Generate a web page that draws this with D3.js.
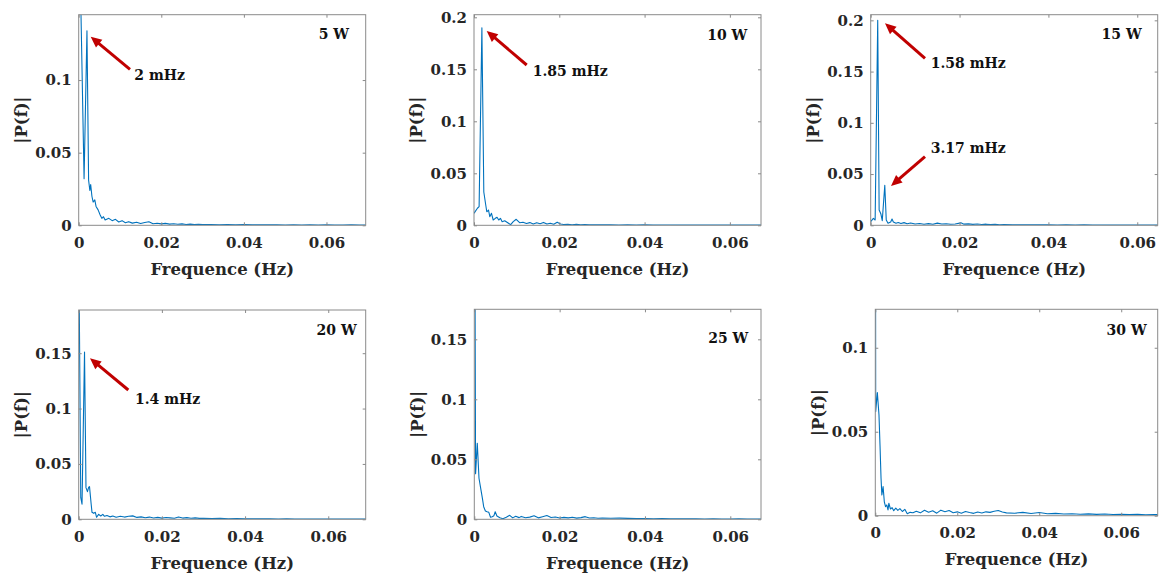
<!DOCTYPE html>
<html>
<head>
<meta charset="utf-8">
<script src="https://cdn.jsdelivr.net/npm/d3@7"></script>
<style>
  html, body { margin: 0; padding: 0; background: #ffffff; }
  svg { display: block; }
</style>
</head>
<body>
<svg id="chart" width="1161" height="576"></svg>
<script>
// ---------------- DATA ----------------
const xTickValues = [0, 0.02, 0.04, 0.06];
const xTickLabels = ["0", "0.02", "0.04", "0.06"];

const titles = ["5 W", "10 W", "15 W", "20 W", "25 W", "30 W"];
const xLabel = "Frequence (Hz)";
const yLabel = "|P(f)|";

// 5 W
const f5 = [0, 0.0013, 0.0020, 0.0024, 0.0027, 0.0029, 0.0032, 0.0035, 0.0039, 0.0042, 0.0047, 0.0052, 0.0056, 0.0060, 0.0064, 0.0073, 0.0081, 0.0089, 0.0097, 0.0105, 0.0113, 0.0121,
  0.013, 0.014, 0.015, 0.016, 0.017, 0.018, 0.019, 0.020, 0.021, 0.022, 0.023, 0.024, 0.025, 0.026, 0.027, 0.028, 0.029, 0.030,
  0.032, 0.034, 0.036, 0.038, 0.040, 0.042, 0.044, 0.046, 0.048, 0.050, 0.052, 0.054, 0.056, 0.058, 0.060, 0.062, 0.064, 0.066, 0.068, 0.070];
const p5 = [0.23, 0.032, 0.134, 0.031, 0.024, 0.028, 0.020, 0.016, 0.0175, 0.013, 0.0106, 0.0071, 0.0048, 0.0059, 0.0037, 0.0048, 0.0032, 0.0041, 0.0023, 0.0032, 0.0018, 0.0025,
  0.0015, 0.0021, 0.0012, 0.0019, 0.0024, 0.0011, 0.0014, 0.0010, 0.0013, 0.0008, 0.0011, 0.0007, 0.0010, 0.0006, 0.0008, 0.0005, 0.0007, 0.0005,
  0.0006, 0.0004, 0.0005, 0.0003, 0.0005, 0.0003, 0.0004, 0.0003, 0.0004, 0.0002, 0.0003, 0.0002, 0.0003, 0.0002, 0.0003, 0.0002, 0.0002, 0.0003, 0.0002, 0.0002];

// 10 W
const f10 = [0, 0.0008, 0.0012, 0.00185, 0.0023, 0.0027, 0.0030, 0.0034, 0.0037, 0.0041, 0.0045, 0.0050, 0.0054, 0.0058, 0.0062, 0.0066, 0.0072, 0.0080, 0.0086, 0.0092, 0.0099, 0.0107, 0.0115, 0.0123, 0.0131, 0.0139, 0.0147, 0.0155, 0.0163, 0.0171, 0.0179, 0.0187, 0.0195, 0.0203,
  0.021, 0.022, 0.023, 0.024, 0.025, 0.026, 0.027, 0.028, 0.029, 0.030,
  0.032, 0.034, 0.036, 0.038, 0.040, 0.042, 0.044, 0.046, 0.048, 0.050, 0.052, 0.054, 0.056, 0.058, 0.060, 0.062, 0.064, 0.066, 0.068];
const p10 = [0.0115, 0.0164, 0.018, 0.190, 0.032, 0.021, 0.013, 0.0147, 0.0083, 0.0115, 0.0051, 0.0067, 0.0077, 0.0051, 0.0067, 0.0035, 0.0044, 0.0022, 0.0006, 0.0035, 0.0058, 0.0025, 0.0030, 0.0018, 0.0026, 0.0012, 0.0024, 0.0015, 0.0028, 0.0012, 0.0020, 0.0011, 0.0030, 0.0012,
  0.0008, 0.0010, 0.0006, 0.0009, 0.0005, 0.0007, 0.0006, 0.0004, 0.0006, 0.0004,
  0.0005, 0.0003, 0.0004, 0.0003, 0.0004, 0.0002, 0.0003, 0.0003, 0.0002, 0.0003, 0.0002, 0.0002, 0.0003, 0.0002, 0.0002, 0.0002, 0.0002, 0.0003, 0.0002];

// 15 W
const f15 = [0, 0.0006, 0.0010, 0.00158, 0.0019, 0.0023, 0.0026, 0.00317, 0.0035, 0.0039, 0.0045, 0.0048, 0.0051, 0.0057, 0.0062, 0.0068, 0.0075, 0.0082, 0.0090, 0.0100,
  0.011, 0.012, 0.013, 0.014, 0.015, 0.016, 0.017, 0.018, 0.019, 0.0203, 0.021, 0.022, 0.023, 0.024, 0.025, 0.026, 0.027, 0.028, 0.029, 0.030,
  0.032, 0.034, 0.036, 0.038, 0.040, 0.042, 0.044, 0.046, 0.048, 0.050, 0.052, 0.054, 0.056, 0.058, 0.060, 0.062, 0.064, 0.066];
const p15 = [0.0035, 0.0068, 0.0052, 0.200, 0.0149, 0.011, 0.0045, 0.039, 0.0052, 0.002, 0.0032, 0.0061, 0.0032, 0.002, 0.0028, 0.0018, 0.0026, 0.0015, 0.0022, 0.0012,
  0.0018, 0.0011, 0.0016, 0.0010, 0.0021, 0.0012, 0.0015, 0.0010, 0.0013, 0.0024, 0.0011, 0.0014, 0.0009, 0.0012, 0.0008, 0.0011, 0.0007, 0.0009, 0.0006, 0.0008,
  0.0006, 0.0005, 0.0006, 0.0004, 0.0005, 0.0003, 0.0004, 0.0003, 0.0004, 0.0003, 0.0003, 0.0002, 0.0003, 0.0002, 0.0003, 0.0002, 0.0002, 0.0002];

// 20 W
const f20 = [0, 0.0005, 0.0008, 0.0014, 0.00175, 0.0021, 0.0024, 0.0026, 0.0030, 0.0032, 0.0036, 0.0040, 0.0043, 0.0048, 0.0053, 0.0058, 0.0062, 0.0068, 0.0075, 0.0082, 0.0090, 0.0100,
  0.011, 0.012, 0.013, 0.014, 0.015, 0.016, 0.017, 0.018, 0.019, 0.020, 0.021, 0.022, 0.023, 0.024, 0.025, 0.026, 0.027, 0.028, 0.029, 0.030,
  0.032, 0.034, 0.036, 0.038, 0.040, 0.042, 0.044, 0.046, 0.048, 0.050, 0.052, 0.054, 0.056, 0.058, 0.060, 0.062, 0.064, 0.066, 0.068, 0.070];
const p20 = [0.26, 0.0195, 0.0136, 0.151, 0.0286, 0.025, 0.029, 0.0295, 0.0136, 0.0063, 0.0054, 0.0063, 0.0018, 0.0045, 0.0030, 0.0045, 0.0027, 0.0035, 0.0022, 0.0030, 0.0018, 0.0028,
  0.0020, 0.0027, 0.0031, 0.0017, 0.0022, 0.0014, 0.0020, 0.0012, 0.0017, 0.0011, 0.0016, 0.0013, 0.0010, 0.0021, 0.0011, 0.0015, 0.0009, 0.0013, 0.0008, 0.0009,
  0.0007, 0.0008, 0.0005, 0.0006, 0.0004, 0.0005, 0.0004, 0.0004, 0.0003, 0.0004, 0.0003, 0.0003, 0.0002, 0.0003, 0.0002, 0.0003, 0.0002, 0.0002, 0.0002, 0.0002];

// 25 W
const f25 = [0, 0.0003, 0.0007, 0.0011, 0.0015, 0.0019, 0.0022, 0.0026, 0.0030, 0.0034, 0.0038, 0.0042, 0.0046, 0.0049, 0.0053, 0.0060, 0.0067, 0.0075, 0.0083, 0.0090, 0.0097,
  0.0105, 0.011, 0.012, 0.013, 0.014, 0.015, 0.016, 0.017, 0.018, 0.019, 0.020, 0.021, 0.022, 0.023, 0.024, 0.025, 0.026, 0.027, 0.028, 0.029, 0.030,
  0.032, 0.034, 0.036, 0.038, 0.040, 0.042, 0.044, 0.046, 0.048, 0.050, 0.052, 0.054, 0.056, 0.058, 0.060, 0.062, 0.064, 0.066, 0.068];
const p25 = [0.40, 0.038, 0.0633, 0.0342, 0.0258, 0.0175, 0.0105, 0.0069, 0.0063, 0.0058, 0.0017, 0.0022, 0.0030, 0.0063, 0.0028, 0.0013, 0.0005, 0.0017, 0.0033, 0.0012, 0.0026,
  0.0014, 0.0024, 0.0013, 0.0018, 0.0029, 0.0012, 0.0022, 0.0031, 0.0015, 0.0019, 0.0011, 0.0016, 0.0012, 0.0017, 0.0010, 0.0014, 0.0022, 0.0011, 0.0013, 0.0009, 0.0011,
  0.0009, 0.0010, 0.0008, 0.0006, 0.0007, 0.0005, 0.0006, 0.0004, 0.0005, 0.0004, 0.0004, 0.0003, 0.0004, 0.0003, 0.0003, 0.0004, 0.0003, 0.0002, 0.0003];

// 30 W
const f30 = [0, 0.0001, 0.0005, 0.0009, 0.00115, 0.0014, 0.0016, 0.0019, 0.0022, 0.0025, 0.0028, 0.0031, 0.0033, 0.0037, 0.0041, 0.0045, 0.0050, 0.0055, 0.0060, 0.0066, 0.0072, 0.0078, 0.0085, 0.0092,
  0.010, 0.011, 0.012, 0.013, 0.014, 0.015, 0.016, 0.017, 0.018, 0.019, 0.020, 0.021, 0.022, 0.023, 0.024, 0.025, 0.026, 0.027, 0.028, 0.029, 0.030, 0.031, 0.032,
  0.034, 0.036, 0.038, 0.040, 0.042, 0.044, 0.046, 0.048, 0.050, 0.052, 0.054, 0.056, 0.058, 0.060, 0.062, 0.064, 0.066, 0.068, 0.070];
const p30 = [0.30, 0.062, 0.0734, 0.060, 0.042, 0.0223, 0.0123, 0.0173, 0.0083, 0.0054, 0.0064, 0.0034, 0.0074, 0.0040, 0.0048, 0.0030, 0.0045, 0.0032, 0.0042, 0.0025, 0.0038, 0.0012, 0.0020, 0.0018,
  0.0026, 0.0017, 0.0032, 0.0021, 0.0029, 0.0015, 0.0033, 0.0024, 0.0031, 0.0018, 0.0023, 0.0015, 0.0025, 0.0019, 0.0014, 0.0022, 0.0016, 0.0023, 0.0020, 0.0026, 0.0031, 0.0022, 0.0017,
  0.0015, 0.0020, 0.0013, 0.0019, 0.0012, 0.0014, 0.0010, 0.0012, 0.0009, 0.0011, 0.0008, 0.0010, 0.0007, 0.0009, 0.0007, 0.0008, 0.0006, 0.0007, 0.0006];

const yTicks5 = [0, 0.05, 0.1], yLabels5 = ["0", "0.05", "0.1"];
const yTicks10 = [0, 0.05, 0.1, 0.15, 0.2], yLabels10 = ["0", "0.05", "0.1", "0.15", "0.2"];
const yTicks15 = [0, 0.05, 0.1, 0.15, 0.2], yLabels15 = ["0", "0.05", "0.1", "0.15", "0.2"];
const yTicks20 = [0, 0.05, 0.1, 0.15], yLabels20 = ["0", "0.05", "0.1", "0.15"];
const yTicks25 = [0, 0.05, 0.1, 0.15], yLabels25 = ["0", "0.05", "0.1", "0.15"];
const yTicks30 = [0, 0.05, 0.1], yLabels30 = ["0", "0.05", "0.1"];

const xMaxes = [0.0695, 0.0673, 0.0646, 0.069, 0.0672, 0.0689];
const yMaxes = [0.145, 0.2025, 0.2055, 0.189, 0.175, 0.1229];

// callouts: [text, textX, textY, arrowTailX, arrowTailY, arrowHeadX, arrowHeadY] (pixel layout)
const callouts = [
  [0, "2 mHz", 134.3, 80, 130, 69.3, 90.7, 36.7],
  [1, "1.85 mHz", 532.7, 76, 526.7, 65, 486.7, 31],
  [2, "1.58 mHz", 930.7, 67.7, 925, 58.3, 885, 23.3],
  [2, "3.17 mHz", 930.7, 153, 925, 156.7, 891, 186],
  [3, "1.4 mHz", 135, 404.3, 128.3, 390, 90, 358.3]
];

// ---------------- LAYOUT ----------------
const boxes = [
  [78.7, 14.7, 365.7, 225.3],
  [474, 14.7, 761, 225.3],
  [870.7, 14.7, 1157.7, 225.3],
  [78.7, 310, 365.7, 519.3],
  [474.3, 309.3, 761, 519.3],
  [875.3, 309.3, 1157.7, 515.7]
];
const titlePos = [[349, 39.3], [747.3, 40], [1141.7, 39.3], [356.7, 335], [748.3, 343.3], [1146.7, 335.3]];

const series = [
  { f: f5, p: p5, yt: yTicks5, yl: yLabels5 },
  { f: f10, p: p10, yt: yTicks10, yl: yLabels10 },
  { f: f15, p: p15, yt: yTicks15, yl: yLabels15 },
  { f: f20, p: p20, yt: yTicks20, yl: yLabels20 },
  { f: f25, p: p25, yt: yTicks25, yl: yLabels25 },
  { f: f30, p: p30, yt: yTicks30, yl: yLabels30 }
];

const FONT = "'DejaVu Serif', 'Liberation Serif', serif";
const svg = d3.select("#chart");
const axisColor = "#8a8a8a";
const textColor = "#262626";

series.forEach((s, i) => {
  const [L, T, R, B] = boxes[i];
  const x = d3.scaleLinear().domain([0, xMaxes[i]]).range([L, R]);
  const y = d3.scaleLinear().domain([0, yMaxes[i]]).range([B, T]);
  const g = svg.append("g");

  const clipId = "clip" + i;
  svg.append("clipPath").attr("id", clipId)
    .append("rect").attr("x", L).attr("y", T).attr("width", R - L).attr("height", B - T);

  // data line
  const pts = s.f.map((f, k) => [f, s.p[k]]);
  g.append("path")
    .datum(pts)
    .attr("clip-path", `url(#${clipId})`)
    .attr("fill", "none")
    .attr("stroke", "#0072BD")
    .attr("stroke-width", 1.1)
    .attr("stroke-linejoin", "round")
    .attr("d", d3.line().x(d => x(d[0])).y(d => y(d[1])));

  // axes
  const styleAxis = (sel, labels) => {
    sel.select(".domain").remove();
    sel.selectAll(".tick line").attr("stroke", axisColor);
    sel.selectAll(".tick text")
      .attr("fill", textColor)
      .style("font-family", FONT)
      .style("font-weight", "bold")
      .style("font-size", "15px");
    if (!labels) sel.selectAll(".tick text").remove();
  };

  g.append("g").attr("transform", `translate(0,${B})`)
    .call(d3.axisBottom(x).tickValues(xTickValues).tickFormat((d, k) => xTickLabels[k]).tickSizeInner(-3).tickSizeOuter(0).tickPadding(12))
    .call(sel => styleAxis(sel, true));
  g.append("g").attr("transform", `translate(0,${T})`)
    .call(d3.axisTop(x).tickValues(xTickValues).tickSizeInner(-3).tickSizeOuter(0))
    .call(sel => styleAxis(sel, false));
  g.append("g").attr("transform", `translate(${L},0)`)
    .call(d3.axisLeft(y).tickValues(s.yt).tickFormat((d, k) => s.yl[k]).tickSizeInner(-3).tickSizeOuter(0).tickPadding(7))
    .call(sel => styleAxis(sel, true));
  g.append("g").attr("transform", `translate(${R},0)`)
    .call(d3.axisRight(y).tickValues(s.yt).tickSizeInner(-3).tickSizeOuter(0))
    .call(sel => styleAxis(sel, false));

  // frame
  g.append("rect").attr("x", L).attr("y", T).attr("width", R - L).attr("height", B - T)
    .attr("fill", "none").attr("stroke", axisColor).attr("stroke-width", 1);

  // axis labels
  g.append("text")
    .attr("x", (L + R) / 2).attr("y", B + 49.5)
    .attr("text-anchor", "middle")
    .attr("fill", textColor)
    .style("font-family", FONT).style("font-weight", "bold").style("font-size", "16.5px")
    .text(xLabel);
  g.append("text")
    .attr("transform", `translate(${L - 57.5},${(T + B) / 2}) rotate(-90)`)
    .attr("text-anchor", "middle")
    .attr("dy", "0.35em")
    .attr("fill", textColor)
    .style("font-family", FONT).style("font-weight", "bold").style("font-size", "16.5px")
    .text(yLabel);

  // power label
  g.append("text")
    .attr("x", titlePos[i][0]).attr("y", titlePos[i][1])
    .attr("text-anchor", "end")
    .attr("fill", "#111")
    .style("font-family", FONT).style("font-weight", "bold").style("font-size", "14px")
    .text(titles[i]);
});

// callouts
callouts.forEach(c => {
  const [pi, txt, tx, ty, ax0, ay0, ax1, ay1] = c;
  svg.append("text")
    .attr("x", tx).attr("y", ty)
    .attr("fill", "#111")
    .style("font-family", FONT).style("font-weight", "bold").style("font-size", "14px")
    .text(txt);
  const dx = ax1 - ax0, dy = ay1 - ay0;
  const len = Math.hypot(dx, dy);
  const ux = dx / len, uy = dy / len;
  const headLen = 11, headW = 5;
  const bx = ax1 - ux * headLen, by = ay1 - uy * headLen;
  svg.append("line")
    .attr("x1", ax0).attr("y1", ay0).attr("x2", bx + ux * 1).attr("y2", by + uy * 1)
    .attr("stroke", "#C00000").attr("stroke-width", 3);
  svg.append("path")
    .attr("d", `M${ax1},${ay1} L${bx - uy * headW},${by + ux * headW} L${bx + uy * headW},${by - ux * headW} Z`)
    .attr("fill", "#C00000");
});
</script>
</body>
</html>
